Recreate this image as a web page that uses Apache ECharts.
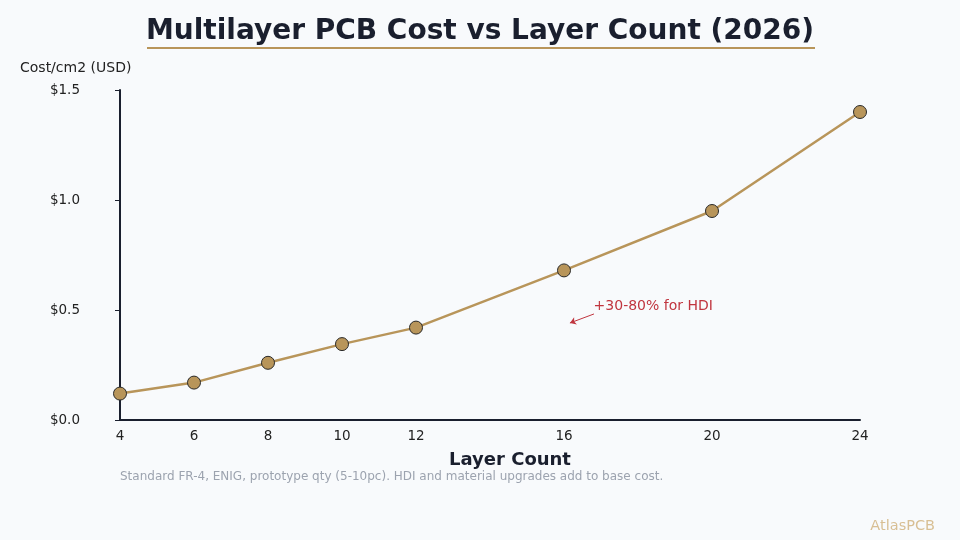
<!DOCTYPE html>
<html>
<head>
<meta charset="utf-8">
<script src="https://cdn.jsdelivr.net/npm/echarts@6/dist/echarts.min.js"></script>
<style>
  html, body { margin: 0; padding: 0; background: #f8fafc; }
  #chart { width: 960px; height: 540px; }
</style>
</head>
<body>
<div id="chart"></div>
<script>
// layer counts and cost per cm2 (USD)
const layers = [4, 6, 8, 10, 12, 16, 20, 24]
const costs = [0.12, 0.17, 0.26, 0.345, 0.42, 0.68, 0.95, 1.4]
const yTicks = [0, 0.5, 1.0, 1.5]

const gold = '#b8955a'
const ink = '#1a1f2e'
const font = 'DejaVu Sans'

const chart = echarts.init(document.getElementById('chart'))

const option = {
    backgroundColor: '#f8fafc',
    animation: false,
    textStyle: { fontFamily: font },
    title: {
        text: 'Multilayer PCB Cost vs Layer Count (2026)',
        left: 'center',
        top: 13,
        textStyle: { fontFamily: font, fontSize: 28, fontWeight: 'bold', color: ink }
    },
    grid: { left: 120, right: 100, top: 90, bottom: 120 },
    graphic: [
        { type: 'line', shape: { x1: 147, y1: 48, x2: 815, y2: 48 }, style: { stroke: gold, lineWidth: 2 } },
        { type: 'text', left: 20, top: 61, style: { text: 'Cost/cm2 (USD)', font: '14px "DejaVu Sans"', fill: '#222' } },
        { type: 'text', left: 120, top: 471, style: { text: 'Standard FR-4, ENIG, prototype qty (5-10pc). HDI and material upgrades add to base cost.', font: '12px "DejaVu Sans"', fill: '#9ca3af' } },
        { type: 'text', right: 25, top: 519, style: { text: 'AtlasPCB', font: '14.5px "DejaVu Sans"', fill: '#d8bf94' } }
    ],
    xAxis: {
        type: 'value',
        min: 4,
        max: 24,
        interval: 2,
        name: 'Layer Count',
        nameLocation: 'middle',
        nameGap: 31,
        nameTextStyle: { fontFamily: font, fontSize: 18, fontWeight: 'bold', color: ink, padding: [0, 0, 0, 40] },
        splitLine: { show: false },
        axisTick: { show: false },
        axisLine: { lineStyle: { color: ink, width: 2 } },
        axisLabel: {
            margin: 9,
            fontSize: 13.5,
            color: '#222',
            formatter: v => layers.includes(v) ? String(v) : ''
        }
    },
    yAxis: {
        type: 'value',
        min: 0,
        max: 1.5,
        interval: 0.5,
        splitLine: { show: false },
        axisLine: { show: true, lineStyle: { color: ink, width: 2 } },
        axisTick: { show: true, length: 5, lineStyle: { color: ink, width: 1 } },
        axisLabel: {
            margin: 40,
            fontSize: 13.5,
            color: '#222',
            formatter: v => yTicks.some(t => Math.abs(t - v) < 1e-9) ? '$' + v.toFixed(1) : ''
        }
    },
    series: [
        {
            type: 'line',
            data: layers.map((l, i) => [l, costs[i]]),
            symbol: 'circle',
            symbolSize: 13,
            showAllSymbol: true,
            lineStyle: { color: gold, width: 2.5 },
            itemStyle: { color: gold, borderColor: '#2a2a2a', borderWidth: 1 },
            z: 3,
            markLine: {
                silent: true,
                symbol: ['none', 'arrow'],
                symbolSize: 6,
                lineStyle: { color: '#c0353f', width: 1, type: 'solid' },
                label: { show: false },
                data: [[{ coord: [16.81, 0.482] }, { coord: [16.16, 0.441] }]]
            },
            markPoint: {
                silent: true,
                symbol: 'circle',
                symbolSize: 0,
                label: {
                    show: true,
                    position: 'right',
                    distance: 0,
                    formatter: '+30-80% for HDI',
                    color: '#c0353f',
                    fontSize: 14,
                    fontFamily: font
                },
                data: [{ coord: [16.8, 0.518] }]
            }
        }
    ]
}

chart.setOption(option)
</script>
</body>
</html>
